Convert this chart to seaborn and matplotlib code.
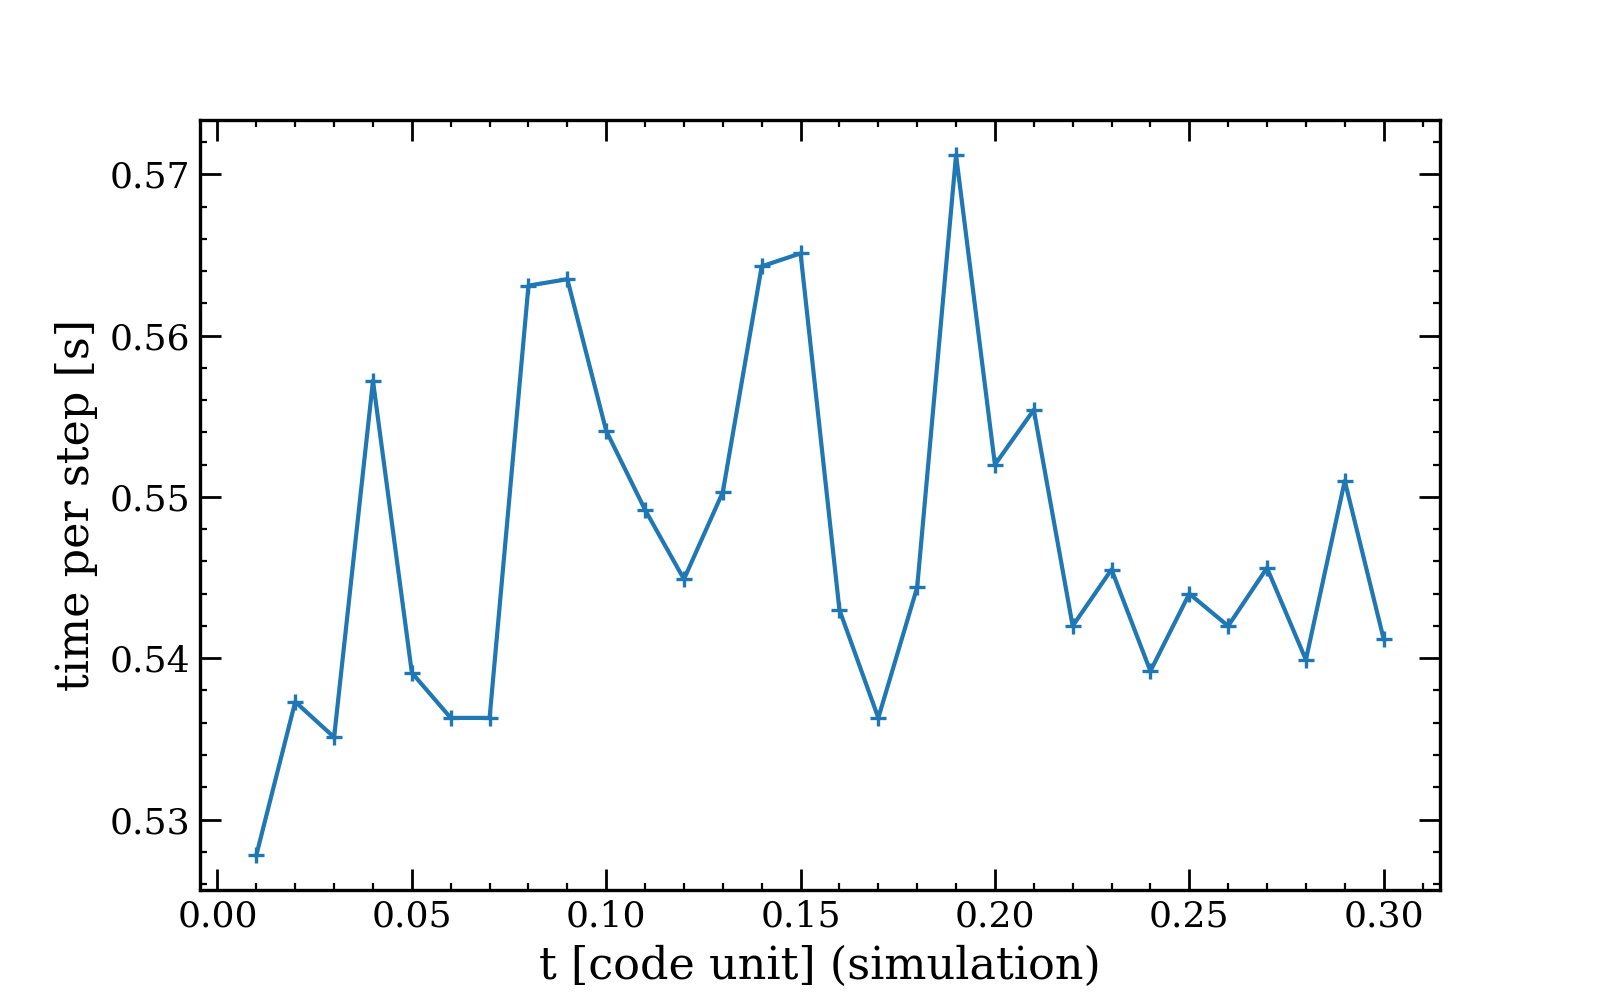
import numpy as np
import pandas as pd
import matplotlib
matplotlib.use("Agg")
import matplotlib.pyplot as plt
import seaborn as sns
from matplotlib.ticker import MultipleLocator

t = [0.01, 0.02, 0.03, 0.04, 0.05, 0.06, 0.07, 0.08, 0.09, 0.10,
     0.11, 0.12, 0.13, 0.14, 0.15, 0.16, 0.17, 0.18, 0.19, 0.20,
     0.21, 0.22, 0.23, 0.24, 0.25, 0.26, 0.27, 0.28, 0.29, 0.30]
time_per_step = [0.5278, 0.5373, 0.5351, 0.5572, 0.5391, 0.5363, 0.5363, 0.5631, 0.5635, 0.5541,
                 0.5492, 0.5449, 0.5503, 0.5643, 0.5651, 0.5430, 0.5363, 0.5444, 0.5712, 0.5520,
                 0.5554, 0.5420, 0.5455, 0.5392, 0.5440, 0.5420, 0.5456, 0.5399, 0.5510, 0.5412]

sns.set_style("ticks")
plt.rcParams['font.family'] = ['DejaVu Serif']
plt.rcParams['mathtext.fontset'] = 'dejavuserif'

df = pd.DataFrame({"t": t, "time": time_per_step})

fig, ax = plt.subplots(figsize=(8, 5), dpi=200)
sns.lineplot(data=df, x="t", y="time", ax=ax, color="#1f77b4", linewidth=1.5,
             marker="+", markersize=6, markeredgewidth=1.2, markeredgecolor="#1f77b4")

ax.set_xlabel("t [code unit] (simulation)", fontsize=16, color='black')
ax.set_ylabel("time per step [s]", fontsize=16, color='black')

ax.xaxis.set_major_locator(MultipleLocator(0.05))
ax.xaxis.set_minor_locator(MultipleLocator(0.01))
ax.yaxis.set_major_locator(MultipleLocator(0.01))
ax.yaxis.set_minor_locator(MultipleLocator(0.002))
ax.xaxis.set_major_formatter(matplotlib.ticker.FormatStrFormatter('%.2f'))
ax.yaxis.set_major_formatter(matplotlib.ticker.FormatStrFormatter('%.2f'))

ax.tick_params(which='both', direction='in', top=True, right=True, labelsize=13, colors='black')
ax.tick_params(which='major', length=7.5, width=1.0)
ax.tick_params(which='minor', length=2.5, width=0.8)
for s in ax.spines.values():
    s.set_linewidth(1.2)
    s.set_color('black')

fig.subplots_adjust(left=0.125, right=0.9, top=0.88, bottom=0.11)
fig.savefig("out.png", dpi=200)
